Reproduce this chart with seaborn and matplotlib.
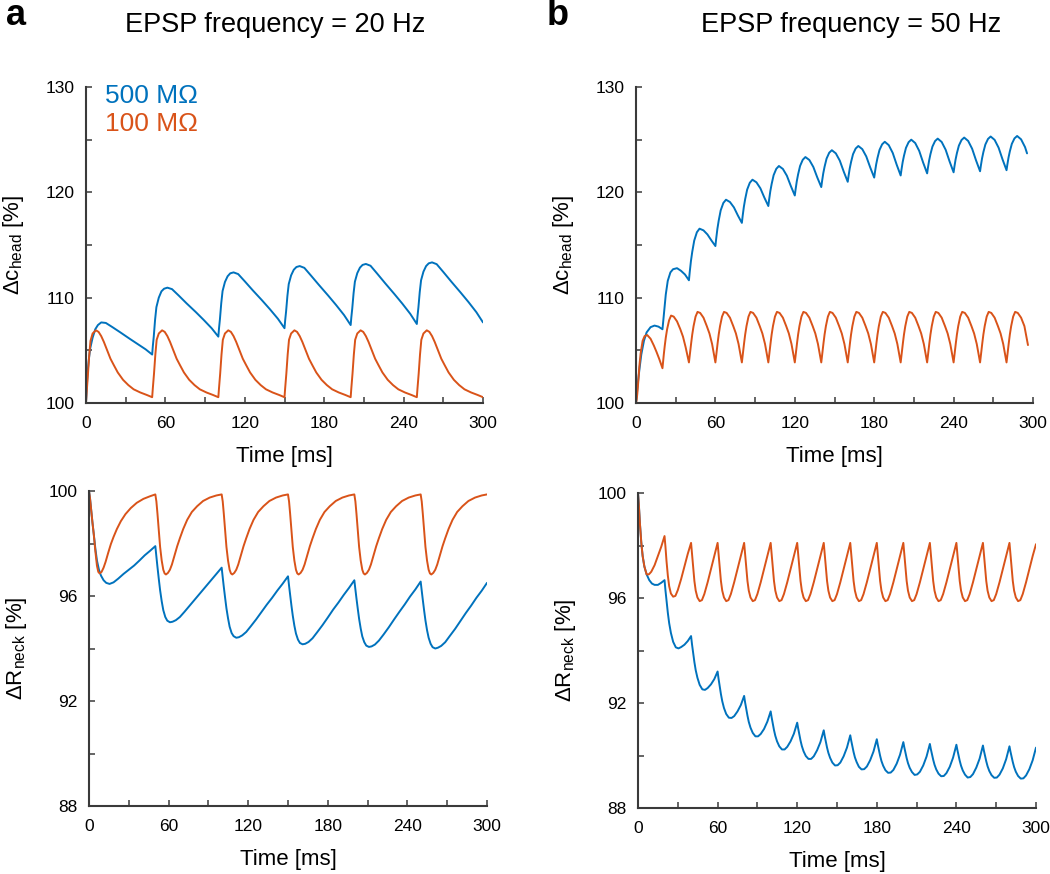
import pandas as pd
import seaborn as sns
import matplotlib.pyplot as plt
from matplotlib.ticker import MultipleLocator

sns.set_style("ticks")
plt.rcParams['font.family'] = ['Liberation Sans', 'DejaVu Sans']

BLUE = '#0072BD'
ORANGE = '#D95319'
LABELS = ['500 MΩ', '100 MΩ']

# ---------------- 20 Hz ----------------
pulses_20 = [0, 50, 100, 150, 200, 250]

# head concentration, 500 MOhm (one row per EPSP)
head20_500_off = [0, 0.5, 1.2, 2.2, 3.2, 5, 7, 9, 11.5, 15, 20, 26, 33, 39, 45]
head20_500 = [
    [100.0, 101.3, 102.9, 104.2, 105.2, 106.2, 107.0, 107.4, 107.65, 107.6, 107.2, 106.7, 106.1, 105.6, 105.1],
    [104.6, 105.4, 106.3, 107.9, 109.1, 110.0, 110.6, 110.85, 110.95, 110.81, 110.21, 109.46, 108.63, 107.88, 107.09],
    [106.3, 107.07, 107.95, 109.47, 110.63, 111.49, 112.03, 112.31, 112.4, 112.24, 111.55, 110.7, 109.75, 108.9, 108.0],
    [107.1, 107.84, 108.69, 110.17, 111.29, 112.12, 112.65, 112.91, 113.0, 112.83, 112.1, 111.21, 110.2, 109.3, 108.35],
    [107.4, 108.13, 108.97, 110.42, 111.52, 112.33, 112.85, 113.11, 113.2, 113.03, 112.29, 111.38, 110.35, 109.44, 108.47],
    [107.5, 108.24, 109.08, 110.54, 111.65, 112.47, 113.0, 113.26, 113.35, 113.18, 112.44, 111.53, 110.5, 109.59, 108.62],
]
head20_500_end = (300, 107.65)

# head concentration, 100 MOhm
head20_100_off = [0, 0.5, 1.4, 2.4, 3.4, 5, 7.5, 9.5, 11.5, 13.5, 16, 18.5, 21, 24, 28, 32, 36, 41, 46]
head20_100_first = [100.0, 101.0, 102.6, 104.5, 105.9, 106.6, 106.9, 106.75, 106.35, 105.8,
                    105.0, 104.2, 103.6, 102.9, 102.2, 101.7, 101.3, 101.0, 100.76]
head20_100_rest = [100.55, 101.4, 102.8, 104.6, 106.0, 106.6, 106.9, 106.75, 106.35, 105.8,
                   105.0, 104.2, 103.6, 102.9, 102.2, 101.7, 101.3, 101.0, 100.76]
head20_100 = [head20_100_first] + [head20_100_rest] * 5
head20_100_end = (300, 100.55)

# neck resistance, 500 MOhm
neck20_500_off = [0, 0.8, 1.6, 2.6, 3.6, 4.8, 6, 7.5, 9, 11, 13, 15.5, 18.5, 22, 26, 30, 34, 38, 42, 46]
neck20_500 = [
    [100.0, 99.7, 99.3, 98.8, 98.35, 97.8, 97.35, 97.0, 96.78, 96.6, 96.5, 96.46, 96.52, 96.66, 96.84, 97.0, 97.16, 97.35, 97.55, 97.72],
    [97.9, 97.5, 97.11, 96.65, 96.22, 95.8, 95.46, 95.2, 95.06, 95.0, 95.02, 95.08, 95.2, 95.4, 95.64, 95.88, 96.12, 96.36, 96.6, 96.84],
    [97.08, 96.71, 96.35, 95.93, 95.53, 95.15, 94.83, 94.59, 94.47, 94.41, 94.43, 94.5, 94.63, 94.85, 95.11, 95.39, 95.67, 95.93, 96.21, 96.47],
    [96.75, 96.39, 96.05, 95.63, 95.25, 94.87, 94.57, 94.34, 94.21, 94.16, 94.18, 94.25, 94.39, 94.62, 94.89, 95.18, 95.48, 95.75, 96.04, 96.31],
    [96.6, 96.25, 95.91, 95.51, 95.13, 94.76, 94.46, 94.24, 94.11, 94.06, 94.08, 94.15, 94.3, 94.53, 94.81, 95.11, 95.4, 95.68, 95.98, 96.25],
    [96.55, 96.2, 95.86, 95.45, 95.07, 94.7, 94.41, 94.18, 94.05, 94.0, 94.03, 94.1, 94.24, 94.48, 94.75, 95.05, 95.35, 95.63, 95.93, 96.2],
]
neck20_500_end = (300, 96.5)

# neck resistance, 100 MOhm
neck20_100_off = [0, 0.8, 1.6, 2.6, 3.6, 4.8, 6, 7, 8, 9.5, 11, 12.5, 14.5, 16.5, 18.5, 21, 24, 27.5, 31.5, 36, 41, 46]
neck20_100_first = [100.0, 99.7, 99.3, 98.8, 98.35, 97.7, 97.15, 96.92, 96.86, 96.92, 97.08,
                    97.3, 97.65, 97.98, 98.25, 98.55, 98.85, 99.12, 99.35, 99.55, 99.7, 99.8]
neck20_100_rest = [99.87, 99.6, 99.14, 98.5, 97.87, 97.35, 97.0, 96.86, 96.82, 96.88, 97.0,
                   97.2, 97.55, 97.9, 98.2, 98.55, 98.9, 99.2, 99.42, 99.62, 99.75, 99.83]
neck20_100 = [neck20_100_first] + [neck20_100_rest] * 5
neck20_100_end = (300, 99.87)

# ---------------- 50 Hz ----------------
pulses_50 = [0, 20, 40, 60, 80, 100, 120, 140, 160, 180, 200, 220, 240, 260, 280]

head50_500_off = [0, 0.6, 1.5, 2.5, 4, 6, 8, 11, 14, 17]
head50_500 = [
    [100.0, 100.8, 102.0, 103.1, 104.6, 105.9, 106.7, 107.2, 107.35, 107.25],
    [107.0, 107.8, 109.1, 110.3, 111.6, 112.4, 112.7, 112.8, 112.55, 112.2],
    [111.65, 112.43, 113.46, 114.35, 115.42, 116.21, 116.55, 116.39, 116.0, 115.43],
    [114.9, 115.6, 116.53, 117.32, 118.29, 118.99, 119.3, 119.08, 118.57, 117.8],
    [117.1, 117.76, 118.62, 119.36, 120.26, 120.91, 121.2, 120.95, 120.38, 119.5],
    [118.7, 119.31, 120.11, 120.79, 121.63, 122.23, 122.5, 122.22, 121.58, 120.6],
    [119.7, 120.28, 121.05, 121.71, 122.51, 123.09, 123.35, 123.07, 122.41, 121.41],
    [120.5, 121.06, 121.8, 122.43, 123.2, 123.76, 124.0, 123.7, 123.01, 121.96],
    [121.0, 121.54, 122.26, 122.87, 123.62, 124.16, 124.4, 124.1, 123.41, 122.36],
    [121.4, 121.94, 122.66, 123.27, 124.02, 124.56, 124.8, 124.48, 123.74, 122.62],
    [121.6, 122.14, 122.86, 123.47, 124.22, 124.76, 125.0, 124.68, 123.94, 122.82],
    [121.8, 122.33, 123.02, 123.62, 124.34, 124.87, 125.1, 124.78, 124.04, 122.92],
    [121.9, 122.43, 123.12, 123.72, 124.44, 124.97, 125.2, 124.88, 124.14, 123.02],
    [122.0, 122.53, 123.22, 123.82, 124.54, 125.07, 125.3, 124.98, 124.24, 123.12],
    [122.1, 122.62, 123.3, 123.89, 124.6, 125.12, 125.35, 125.03, 124.29],
]
head50_500_end = (295.5, 123.7)

head50_100_off = [0, 0.5, 1, 1.7, 2.5, 3.5, 5, 6.5, 8.5, 11, 13.5, 15.5, 17.5]
head50_100_first = [100.0, 100.3, 100.9, 102.0, 103.45, 104.7, 105.9, 106.35, 106.45, 106.1, 105.45, 104.85, 104.2]
head50_100_second = [103.3, 103.95, 104.6, 105.4, 106.2, 107.0, 107.85, 108.3, 108.2, 107.75, 107.0, 106.3, 105.3]
head50_100_rest = [103.85, 104.4, 104.95, 105.7, 106.5, 107.3, 108.2, 108.65, 108.55, 108.1, 107.3, 106.6, 105.6]
head50_100_last = [103.85, 104.4, 104.95, 105.7, 106.5, 107.3, 108.2, 108.65, 108.55, 108.1, 107.3]
head50_100 = [head50_100_first, head50_100_second] + [head50_100_rest] * 12 + [head50_100_last]
head50_100_end = (296.2, 105.5)

neck50_500_off = [0, 0.7, 1.5, 2.5, 3.5, 4.8, 6.5, 8.5, 10.5, 12.5, 15, 17.5]
neck50_500 = [
    [100.0, 99.5, 98.8, 98.1, 97.6, 97.2, 96.9, 96.68, 96.55, 96.5, 96.5, 96.58],
    [96.68, 96.29, 95.9, 95.43, 95.04, 94.67, 94.33, 94.12, 94.08, 94.13, 94.22, 94.36],
    [94.55, 94.24, 93.93, 93.56, 93.25, 92.96, 92.69, 92.52, 92.5, 92.57, 92.71, 92.91],
    [93.2, 92.93, 92.66, 92.34, 92.07, 91.81, 91.58, 91.44, 91.43, 91.5, 91.68, 91.92],
    [92.27, 92.03, 91.8, 91.52, 91.28, 91.06, 90.86, 90.73, 90.73, 90.82, 91.01, 91.29],
    [91.68, 91.46, 91.24, 90.97, 90.75, 90.54, 90.35, 90.23, 90.23, 90.33, 90.54, 90.83],
    [91.25, 91.04, 90.83, 90.57, 90.36, 90.16, 89.98, 89.87, 89.87, 89.97, 90.2, 90.51],
    [90.96, 90.75, 90.55, 90.3, 90.1, 89.91, 89.73, 89.62, 89.63, 89.73, 89.97, 90.3],
    [90.77, 90.57, 90.37, 90.13, 89.93, 89.75, 89.57, 89.47, 89.48, 89.58, 89.82, 90.15],
    [90.62, 90.42, 90.23, 89.99, 89.79, 89.61, 89.44, 89.34, 89.35, 89.45, 89.69, 90.03],
    [90.51, 90.32, 90.13, 89.9, 89.71, 89.53, 89.37, 89.26, 89.28, 89.38, 89.62, 89.96],
    [90.44, 90.25, 90.06, 89.84, 89.65, 89.47, 89.31, 89.21, 89.22, 89.33, 89.57, 89.92],
    [90.41, 90.22, 90.03, 89.8, 89.61, 89.43, 89.27, 89.16, 89.18, 89.29, 89.54, 89.88],
    [90.38, 90.19, 90.0, 89.78, 89.59, 89.41, 89.25, 89.15, 89.16, 89.27, 89.51, 89.86],
    [90.35, 90.16, 89.97, 89.75, 89.56, 89.38, 89.22, 89.12, 89.13, 89.24, 89.48, 89.82],
]
neck50_500_end = (300, 90.3)

neck50_100_off = [0, 0.7, 1.5, 2.5, 3.5, 4.8, 6.5, 8.2, 10, 12.5, 15, 17.5]
neck50_100_first = [100.0, 99.5, 98.8, 98.1, 97.6, 97.2, 96.9, 96.9, 97.0, 97.25, 97.6, 97.95]
neck50_100_second = [98.36, 97.95, 97.4, 96.85, 96.45, 96.17, 96.05, 96.08, 96.3, 96.72, 97.2, 97.68]
neck50_100_rest = [98.1, 97.7, 97.2, 96.65, 96.28, 96.02, 95.88, 95.92, 96.15, 96.6, 97.1, 97.6]
neck50_100 = [neck50_100_first, neck50_100_second] + [neck50_100_rest] * 13
neck50_100_end = (300, 98.05)


def trace(pulses, offsets, cycles, end, label):
    t, v = [], []
    for p, vals in zip(pulses, cycles):
        t += [p + o for o, _ in zip(offsets, vals)]
        v += vals
    t.append(end[0])
    v.append(end[1])
    return pd.DataFrame({'time': t, 'value': v, 'R': label})


def draw(ax, blue_df, orange_df):
    df = pd.concat([blue_df, orange_df])
    sns.lineplot(data=df, x='time', y='value', hue='R', hue_order=LABELS,
                 palette=[BLUE, ORANGE], estimator=None, sort=False,
                 legend=False, linewidth=1.4, ax=ax)


def style(ax, ylim, ymaj, ymin, ylabel):
    ax.set_xlim(0, 300)
    ax.set_ylim(*ylim)
    ax.xaxis.set_major_locator(MultipleLocator(60))
    ax.xaxis.set_minor_locator(MultipleLocator(30))
    ax.yaxis.set_major_locator(MultipleLocator(ymaj))
    ax.yaxis.set_minor_locator(MultipleLocator(ymin))
    ax.tick_params(which='both', direction='in', length=4, width=1.1,
                   color='#3a3a3a', labelcolor='black', labelsize=12.5)
    ax.tick_params(axis='x', pad=9.5)
    ax.tick_params(axis='y', pad=8)
    for s in ['top', 'right']:
        ax.spines[s].set_visible(False)
    for s in ['left', 'bottom']:
        ax.spines[s].set_linewidth(1.5)
        ax.spines[s].set_color('#3a3a3a')
    ax.set_xlabel('Time [ms]', fontsize=16, labelpad=11, color='black')
    ax.set_ylabel(ylabel, fontsize=16, labelpad=14, color='black')


W, H = 1050, 874
fig = plt.figure(figsize=(W / 100, H / 100), dpi=100)


def rect(x0, x1, ytop, ybot):
    return [x0 / W, 1 - ybot / H, (x1 - x0) / W, (ybot - ytop) / H]


ax_a1 = fig.add_axes(rect(86, 483, 87, 403))
ax_b1 = fig.add_axes(rect(636, 1033, 87, 403))
ax_a2 = fig.add_axes(rect(89, 487, 491, 806))
ax_b2 = fig.add_axes(rect(638, 1036, 493, 808))

head_label = 'Δc$_\\mathregular{head}$ [%]'
neck_label = 'ΔR$_\\mathregular{neck}$ [%]'

draw(ax_a1, trace(pulses_20, head20_500_off, head20_500, head20_500_end, LABELS[0]),
     trace(pulses_20, head20_100_off, head20_100, head20_100_end, LABELS[1]))
style(ax_a1, (100, 130), 10, 5, head_label)

draw(ax_b1, trace(pulses_50, head50_500_off, head50_500, head50_500_end, LABELS[0]),
     trace(pulses_50, head50_100_off, head50_100, head50_100_end, LABELS[1]))
style(ax_b1, (100, 130), 10, 5, head_label)

draw(ax_a2, trace(pulses_20, neck20_500_off, neck20_500, neck20_500_end, LABELS[0]),
     trace(pulses_20, neck20_100_off, neck20_100, neck20_100_end, LABELS[1]))
style(ax_a2, (88, 100), 4, 2, neck_label)

draw(ax_b2, trace(pulses_50, neck50_500_off, neck50_500, neck50_500_end, LABELS[0]),
     trace(pulses_50, neck50_100_off, neck50_100, neck50_100_end, LABELS[1]))
style(ax_b2, (88, 100), 4, 2, neck_label)

# coloured series labels
ax_a1.text(0.048, 0.948, LABELS[0], color=BLUE, fontsize=19,
           transform=ax_a1.transAxes, va='baseline')
ax_a1.text(0.048, 0.861, LABELS[1], color=ORANGE, fontsize=19,
           transform=ax_a1.transAxes, va='baseline')

fig.text(0.262, 0.9637, 'EPSP frequency = 20 Hz', fontsize=19.5, ha='center', va='baseline', color='black')
fig.text(0.8105, 0.9637, 'EPSP frequency = 50 Hz', fontsize=19.5, ha='center', va='baseline', color='black')
fig.text(0.006, 0.9714, 'a', fontsize=26, fontweight='bold', va='baseline', color='black')
fig.text(0.521, 0.9714, 'b', fontsize=26, fontweight='bold', va='baseline', color='black')

fig.savefig('out.png', dpi=100)
